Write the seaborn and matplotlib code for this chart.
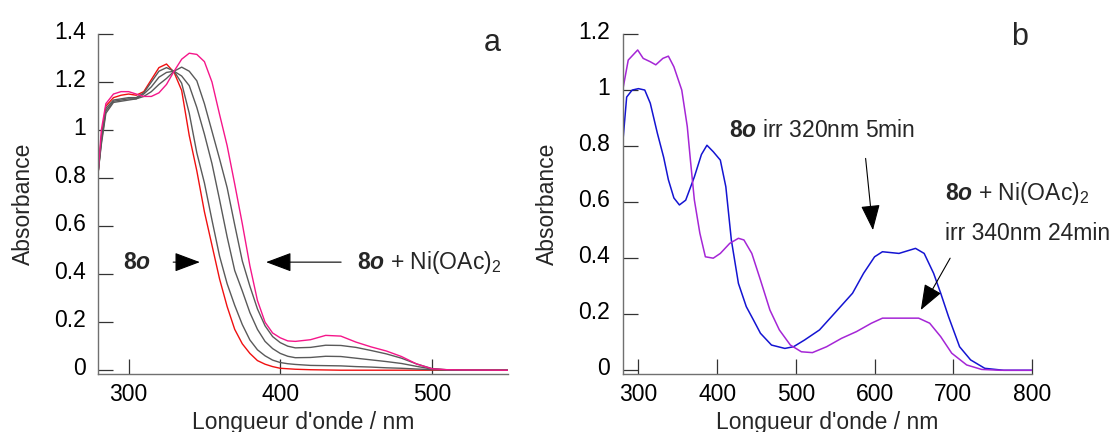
import matplotlib
matplotlib.use("Agg")
import matplotlib.pyplot as plt
import matplotlib.transforms as mtransforms
import pandas as pd
import seaborn as sns
from matplotlib.ticker import FuncFormatter

### Panel a : spectra of 8o during addition of Ni(OAc)2
wl_a = [280, 282, 285, 290, 295, 300, 305, 310, 315, 320, 325, 330, 335, 340, 345, 350, 355, 360, 365, 370,
        375, 380, 385, 390, 395, 400, 405, 410, 420, 430, 440, 450, 460, 470, 480, 490, 500, 510, 520, 550]
abs_8o = [0.83, 0.97, 1.10, 1.135, 1.145, 1.15, 1.145, 1.16, 1.21, 1.26, 1.275, 1.24, 1.165, 0.977, 0.83, 0.66, 0.52, 0.38, 0.265, 0.17,
          0.11, 0.07, 0.04, 0.025, 0.015, 0.008, 0.006, 0.004, 0.002, 0.001, 0.0, 0.0, 0.0, 0.0, 0.0, 0.0, 0.0, 0.0, 0.0, 0.0]
abs_step1 = [0.83, 0.96, 1.09, 1.125, 1.13, 1.135, 1.135, 1.155, 1.2, 1.245, 1.26, 1.245, 1.195, 1.07, 0.905, 0.78, 0.625, 0.475, 0.36, 0.27,
             0.19, 0.126, 0.085, 0.06, 0.042, 0.032, 0.027, 0.024, 0.02, 0.019, 0.018, 0.015, 0.013, 0.01, 0.008, 0.005, 0.002, 0.001, 0.0, 0.0]
abs_step2 = [0.83, 0.95, 1.08, 1.12, 1.125, 1.13, 1.13, 1.15, 1.18, 1.22, 1.24, 1.245, 1.225, 1.185, 1.094, 0.983, 0.86, 0.71, 0.555, 0.415,
             0.33, 0.24, 0.17, 0.12, 0.09, 0.07, 0.058, 0.052, 0.053, 0.058, 0.057, 0.05, 0.043, 0.036, 0.028, 0.016, 0.005, 0.001, 0.0, 0.0]
abs_step3 = [0.83, 0.94, 1.07, 1.115, 1.12, 1.125, 1.13, 1.14, 1.16, 1.19, 1.215, 1.245, 1.262, 1.245, 1.205, 1.11, 0.995, 0.88, 0.76, 0.605,
             0.455, 0.35, 0.255, 0.185, 0.14, 0.115, 0.1, 0.093, 0.095, 0.104, 0.103, 0.095, 0.082, 0.068, 0.05, 0.026, 0.007, 0.002, 0.0, 0.0]
abs_8o_ni = [0.83, 1.0, 1.11, 1.15, 1.16, 1.16, 1.15, 1.14, 1.14, 1.155, 1.19, 1.245, 1.295, 1.32, 1.315, 1.285, 1.2, 1.065, 0.935, 0.775,
             0.61, 0.435, 0.29, 0.2, 0.155, 0.135, 0.122, 0.12, 0.127, 0.145, 0.142, 0.117, 0.097, 0.08, 0.057, 0.026, 0.006, 0.002, 0.001, 0.0]

### Panel b : after irradiation
wl_irr_8o = [280, 285, 292, 300, 308, 315, 324, 332, 338, 345, 352, 360, 371, 380, 387, 395, 404, 411, 418, 427, 437, 446,
             455, 469, 486, 497, 511, 530, 549, 572, 586, 600, 610, 631, 652, 663, 675, 684, 694, 708, 722, 740, 764, 800]
abs_irr_8o = [0.81, 0.975, 1.0, 1.005, 1.0, 0.953, 0.846, 0.76, 0.68, 0.615, 0.59, 0.607, 0.69, 0.77, 0.803, 0.78, 0.75, 0.655, 0.465, 0.31, 0.227, 0.18,
              0.132, 0.09, 0.078, 0.084, 0.108, 0.144, 0.203, 0.275, 0.346, 0.405, 0.423, 0.417, 0.435, 0.417, 0.346, 0.275, 0.191, 0.084, 0.037, 0.007, 0.0, 0.0]
wl_irr_ni = [280, 287, 299, 306, 315, 322, 331, 338, 345, 355, 362, 366, 371, 378, 385, 395, 404, 416, 427, 434, 444, 455,
             467, 479, 493, 507, 521, 539, 558, 577, 596, 610, 633, 656, 670, 684, 698, 717, 736, 760, 800]
abs_irr_ni = [1.0, 1.107, 1.143, 1.113, 1.101, 1.09, 1.113, 1.121, 1.083, 1.0, 0.87, 0.75, 0.608, 0.489, 0.405, 0.4, 0.417, 0.453, 0.471, 0.465, 0.417, 0.322,
              0.215, 0.144, 0.09, 0.066, 0.063, 0.084, 0.114, 0.138, 0.168, 0.186, 0.186, 0.186, 0.168, 0.12, 0.061, 0.019, 0.003, 0.0, 0.0]

names_a = ['8o', 'step1', 'step2', 'step3', '8o+Ni']
colors_a = ['#f01010', '#5a5a5a', '#5a5a5a', '#5a5a5a', '#f5168a']
names_b = ['8o irr', '8o+Ni irr']
colors_b = ['#1414d2', '#a526d6']

df_a = pd.concat([pd.DataFrame({'wl': wl_a, 'A': s, 'spec': n})
                  for n, s in zip(names_a, [abs_8o, abs_step1, abs_step2, abs_step3, abs_8o_ni])])
df_b = pd.concat([pd.DataFrame({'wl': wl_irr_8o, 'A': abs_irr_8o, 'spec': names_b[0]}),
                  pd.DataFrame({'wl': wl_irr_ni, 'A': abs_irr_ni, 'spec': names_b[1]})])

sns.set_theme(style="ticks")
plt.rcParams['font.family'] = ['Liberation Sans', 'DejaVu Sans']
plt.rcParams['mathtext.fontset'] = 'custom'
plt.rcParams['mathtext.rm'] = 'Liberation Sans'
plt.rcParams['mathtext.bf'] = 'Liberation Sans:bold'
plt.rcParams['mathtext.it'] = 'Liberation Sans:italic'
plt.rcParams['mathtext.bfit'] = 'Liberation Sans:bold:italic'

FS = 16.5
LBL_8O = r'$\mathbf{8}\mathbfit{o}$'
LBL_NI = r'$\mathbf{8}\mathbfit{o}$ + Ni(OAc)$_2$'

fig = plt.figure(figsize=(11.17, 4.32), dpi=100)
ax_a = fig.add_axes([0.088, 0.1336, 0.3664, 0.7877])
ax_b = fig.add_axes([0.5575, 0.1336, 0.3664, 0.7877])

sns.lineplot(data=df_a, x='wl', y='A', hue='spec', hue_order=names_a, palette=colors_a,
             estimator=None, linewidth=1.0, legend=False, ax=ax_a)
sns.lineplot(data=df_b, x='wl', y='A', hue='spec', hue_order=names_b, palette=colors_b,
             estimator=None, linewidth=1.1, legend=False, ax=ax_b)

### Axes styling
fmt = FuncFormatter(lambda v, p: f"{v:g}")
lift = mtransforms.ScaledTranslation(0, 4 / 100, fig.dpi_scale_trans)
for ax, xl, yl, xt, yt in [(ax_a, (280, 550), (-0.017, 1.4), [300, 400, 500], [0, 0.2, 0.4, 0.6, 0.8, 1, 1.2, 1.4]),
                           (ax_b, (280, 800), (-0.0143, 1.2), [300, 400, 500, 600, 700, 800], [0, 0.2, 0.4, 0.6, 0.8, 1, 1.2])]:
    ax.set_xlim(*xl)
    ax.set_ylim(*yl)
    ax.set_xticks(xt)
    ax.set_yticks(yt)
    ax.yaxis.set_major_formatter(fmt)
    sns.despine(ax=ax)
    for sp in ['left', 'bottom']:
        ax.spines[sp].set_color('#707070')
        ax.spines[sp].set_linewidth(1.0)
    ax.tick_params(axis='both', direction='in', length=10.5, width=0.9, color='#333333', labelsize=FS, labelcolor='black')
    ax.tick_params(axis='y', pad=9)
    ax.tick_params(axis='x', pad=6)
    ax.set_xlabel("Longueur d'onde / nm", fontsize=FS, labelpad=4)
    ax.set_ylabel('Absorbance', fontsize=FS, labelpad=14)
    # y tick labels sit a little above their ticks in the original
    for t in ax.yaxis.get_major_ticks():
        t.label1.set_transform(t.label1.get_transform() + lift)

arrow = dict(arrowstyle='-|>,head_length=0.8,head_width=0.3', mutation_scale=20, color='black', lw=0.8,
             shrinkA=0, shrinkB=0)

### Panel a labels
ax_a.text(296.3, 0.45, LBL_8O, fontsize=FS, va='center')
ax_a.annotate('', xy=(347, 0.45), xytext=(329.4, 0.45), arrowprops=arrow)
ax_a.annotate('', xy=(390.7, 0.45), xytext=(440.2, 0.45), arrowprops=arrow)
ax_a.text(450.8, 0.45, LBL_NI, fontsize=FS, va='center')
ax_a.text(0.963, 0.975, 'a', transform=ax_a.transAxes, fontsize=22, ha='center', va='center')

### Panel b labels
ax_b.text(415, 0.857, LBL_8O + ' irr 320nm 5min', fontsize=FS, va='center')
ax_b.annotate('', xy=(597.9, 0.5), xytext=(588.6, 0.756), arrowprops=arrow)
ax_b.text(689, 0.632, LBL_NI, fontsize=FS, va='center')
ax_b.text(689, 0.489, 'irr 340nm 24min', fontsize=FS, va='center')
ax_b.annotate('', xy=(658.7, 0.215), xytext=(696, 0.4), arrowprops=arrow)
ax_b.text(0.970, 0.99, 'b', transform=ax_b.transAxes, fontsize=22, ha='center', va='center')

fig.savefig('out.png', dpi=100)
